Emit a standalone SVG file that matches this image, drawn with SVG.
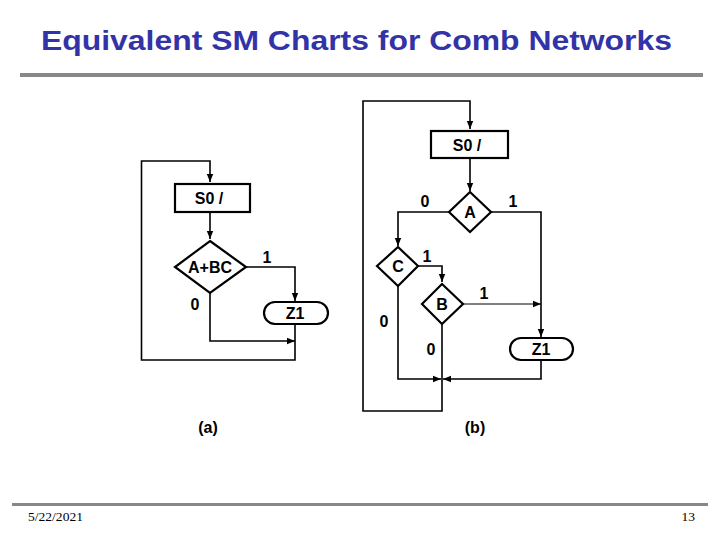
<svg xmlns="http://www.w3.org/2000/svg" width="720" height="540" viewBox="0 0 720 540">
<style>
.t{font-family:"Liberation Sans",Arial,sans-serif;font-weight:bold;font-size:16px;fill:#000;text-anchor:middle;dominant-baseline:central}
.box{fill:#fff;stroke:#000;stroke-width:2.2}
.c{fill:none;stroke:#000;stroke-width:1.6}
.thin{fill:none;stroke:#000;stroke-width:1}
</style>
<defs>
<marker id="ah" viewBox="0 0 10 10" refX="10" refY="5" markerWidth="8" markerHeight="8" markerUnits="userSpaceOnUse" orient="auto">
<path d="M0,1 L10,5 L0,9 Z" fill="#000"/>
</marker>
</defs>
<rect width="720" height="540" fill="#fff"/>
<text x="41" y="50" font-family="Liberation Sans,Arial,sans-serif" font-weight="bold" font-size="27" fill="#3333a8" textLength="631" lengthAdjust="spacingAndGlyphs">Equivalent SM Charts for Comb Networks</text>
<rect x="20" y="73" width="683" height="4" fill="#888"/>
<rect x="12" y="503" width="696" height="3" fill="#888"/>
<text x="28" y="521" font-family="Liberation Serif,serif" font-size="13.5" fill="#000" textLength="55" lengthAdjust="spacingAndGlyphs">5/22/2021</text>
<text x="695" y="521" font-family="Liberation Serif,serif" font-size="13.5" fill="#000" text-anchor="end">13</text>

<g id="connectors">
<!-- (a) -->
<path class="c" d="M295,324 V360 H141.5 V161 H210 V182" marker-end="url(#ah)"/>
<path class="c" d="M210,212 V239" marker-end="url(#ah)"/>
<path class="c" d="M246,267 H295 V301" marker-end="url(#ah)"/>
<path class="c" d="M210,293 V341 H295" marker-end="url(#ah)"/>
<!-- (b) -->
<path class="c" d="M442,324 V411 H363 V101 H470 V129" marker-end="url(#ah)"/>
<path class="c" d="M470,157 V191" marker-end="url(#ah)"/>
<path class="c" d="M449,212 H398 V246" marker-end="url(#ah)"/>
<path class="c" d="M491,212 H541 V337" marker-end="url(#ah)"/>
<path class="c" d="M418,266 H442 V282" marker-end="url(#ah)"/>
<path class="thin" d="M463,304 H541" marker-end="url(#ah)"/>
<path class="c" d="M398,286 V379 H441" marker-end="url(#ah)"/>
<path class="c" d="M541,360 V379 H443" marker-end="url(#ah)"/>
</g>

<g id="a-s0"><rect class="box" x="175" y="184" width="75" height="28"/><text class="t" x="209" y="198">S0 /</text></g>
<g id="a-cond"><path class="box" d="M210,241 L246,267 L210,293 L175,267 Z"/><text class="t" x="210" y="267">A+BC</text></g>
<g id="a-z1"><rect class="box" x="264" y="302" width="64" height="22" rx="11"/><text class="t" x="295" y="313">Z1</text></g>
<g id="a-labels">
<text class="t" x="267" y="257">1</text>
<text class="t" x="195" y="304">0</text>
<text class="t" x="208" y="427">(a)</text>
</g>

<g id="b-s0"><rect class="box" x="431" y="131" width="77" height="27"/><text class="t" x="467" y="145">S0 /</text></g>
<g id="b-A"><path class="box" d="M470,192 L491,212 L470,232 L449,212 Z"/><text class="t" x="470" y="212">A</text></g>
<g id="b-C"><path class="box" d="M398,247 L418,266 L398,286 L377,266 Z"/><text class="t" x="398" y="266">C</text></g>
<g id="b-B"><path class="box" d="M442,284 L463,304 L442,324 L422,304 Z"/><text class="t" x="442" y="304">B</text></g>
<g id="b-z1"><rect class="box" x="510" y="338" width="63" height="22" rx="11"/><text class="t" x="541" y="349">Z1</text></g>
<g id="b-labels">
<text class="t" x="425" y="201">0</text>
<text class="t" x="513" y="201">1</text>
<text class="t" x="427" y="256">1</text>
<text class="t" x="484" y="293">1</text>
<text class="t" x="384" y="321">0</text>
<text class="t" x="431" y="349">0</text>
<text class="t" x="475" y="427">(b)</text>
</g>
</svg>
